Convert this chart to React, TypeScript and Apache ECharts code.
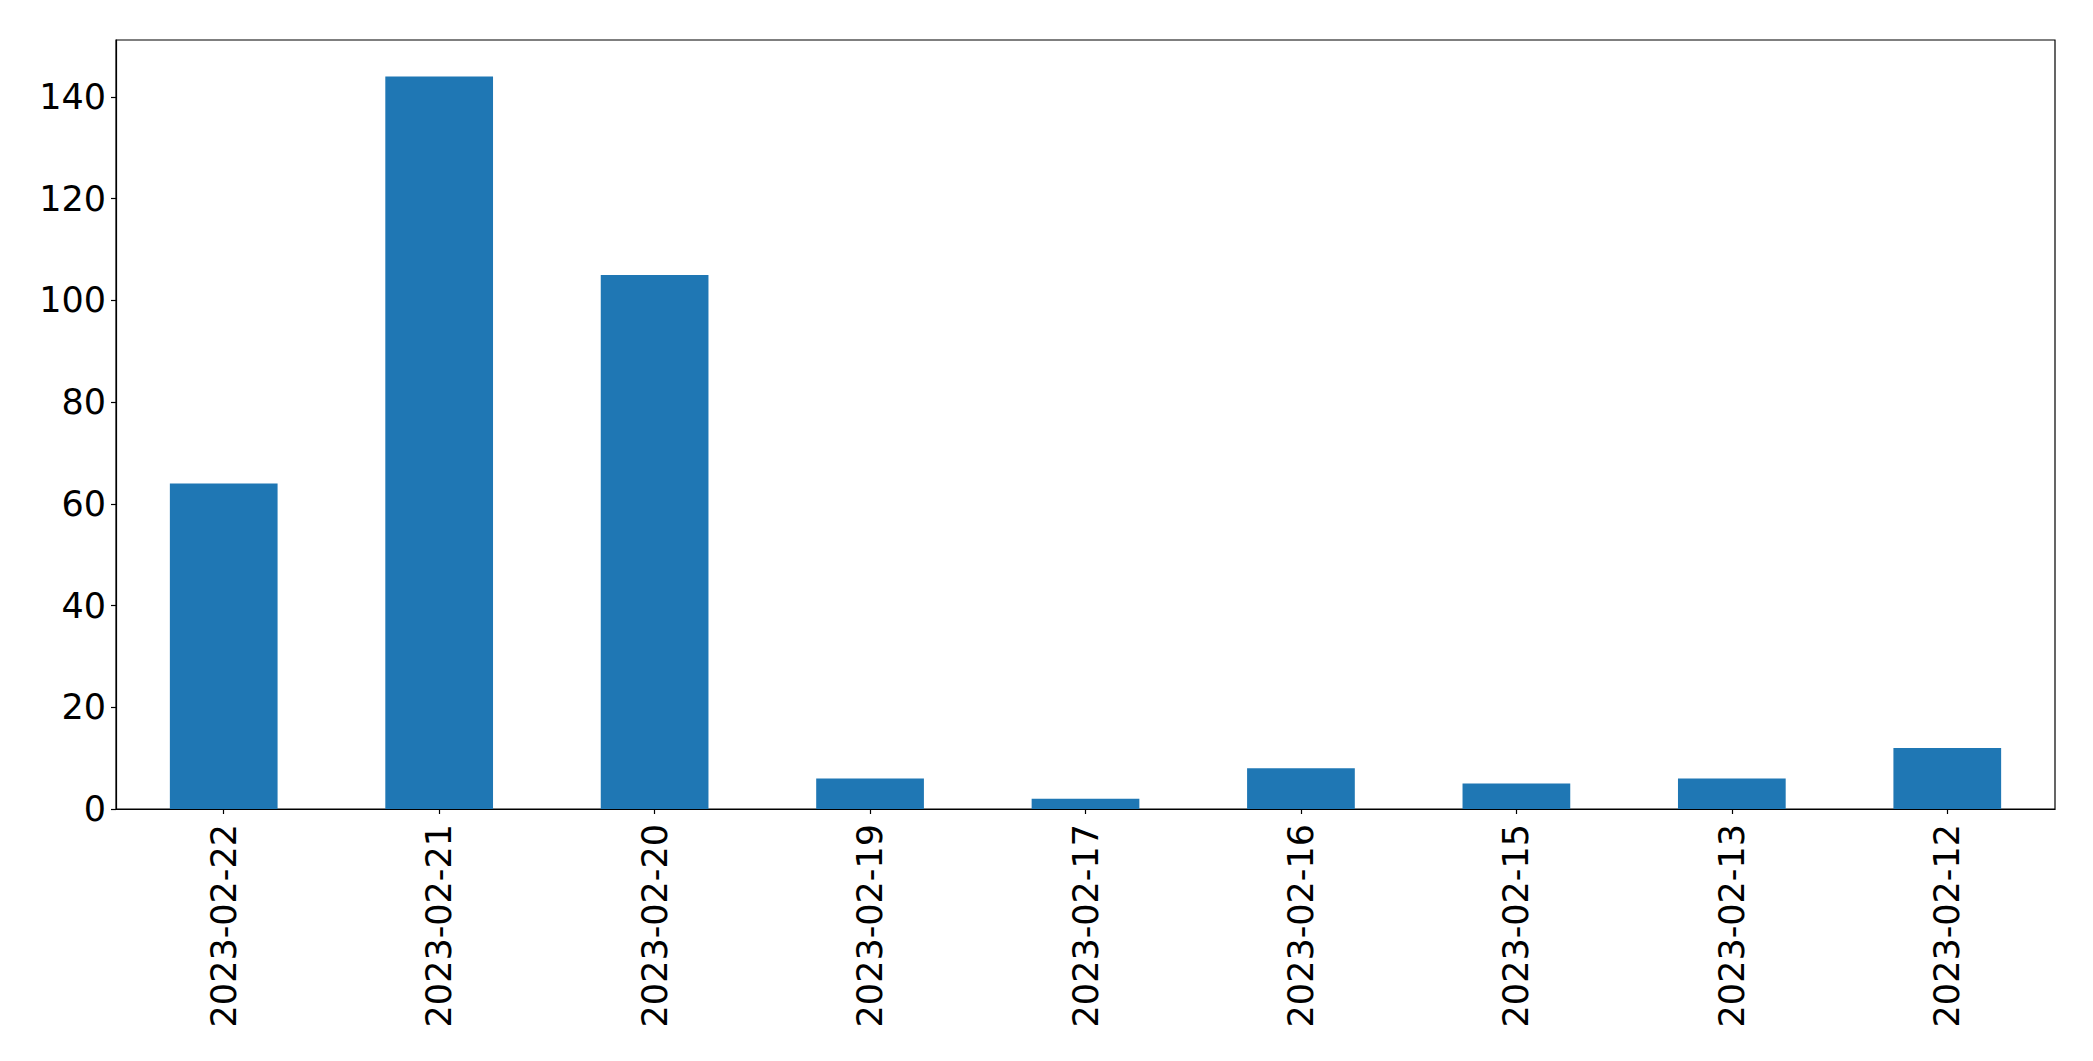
import React, { useEffect, useRef } from "react";
import * as echarts from "echarts";

const categories = [
  "2023-02-22",
  "2023-02-21",
  "2023-02-20",
  "2023-02-19",
  "2023-02-17",
  "2023-02-16",
  "2023-02-15",
  "2023-02-13",
  "2023-02-12",
];
const counts = [64, 144, 105, 6, 2, 8, 5, 6, 12];
const yMin = 0;
const yMax = 151.2;
const yInterval = 20;

export default function App() {
  const ref = useRef<HTMLDivElement>(null);
  useEffect(() => {
    if (!ref.current) return;
    const chart = echarts.init(ref.current, undefined, { renderer: "svg" });
    const font = "DejaVu Sans";
    chart.setOption({
      animation: false,
      backgroundColor: "#ffffff",
      grid: {
        left: 116,
        top: 40,
        right: 38,
        bottom: 252,
        show: true,
        borderColor: "#000000",
        borderWidth: 1.2,
        backgroundColor: "transparent",
      },
      xAxis: {
        type: "category",
        data: categories,
        boundaryGap: true,
        axisLine: { show: true, lineStyle: { color: "#000000", width: 1.2 } },
        axisTick: {
          show: true,
          alignWithLabel: true,
          length: 5,
          lineStyle: { color: "#000000", width: 1.2 },
        },
        axisLabel: {
          rotate: 90,
          interval: 0,
          margin: 15,
          color: "#000000",
          fontFamily: font,
          fontSize: 35,
        },
        splitLine: { show: false },
      },
      yAxis: {
        type: "value",
        min: yMin,
        max: yMax,
        interval: yInterval,
        axisLine: { show: true, lineStyle: { color: "#000000", width: 1.2 } },
        axisTick: {
          show: true,
          length: 5,
          lineStyle: { color: "#000000", width: 1.2 },
        },
        axisLabel: {
          margin: 10,
          color: "#000000",
          fontFamily: font,
          fontSize: 35,
          showMaxLabel: false,
        },
        splitLine: { show: false },
      },
      series: [
        {
          type: "bar",
          data: counts,
          barCategoryGap: "50%",
          itemStyle: { color: "#1f77b4" },
        },
      ],
    });
    return () => chart.dispose();
  }, []);
  return (
    <div
      ref={ref}
      style={{ position: "fixed", left: 0, top: 0, width: 2093, height: 1061 }}
    />
  );
}
